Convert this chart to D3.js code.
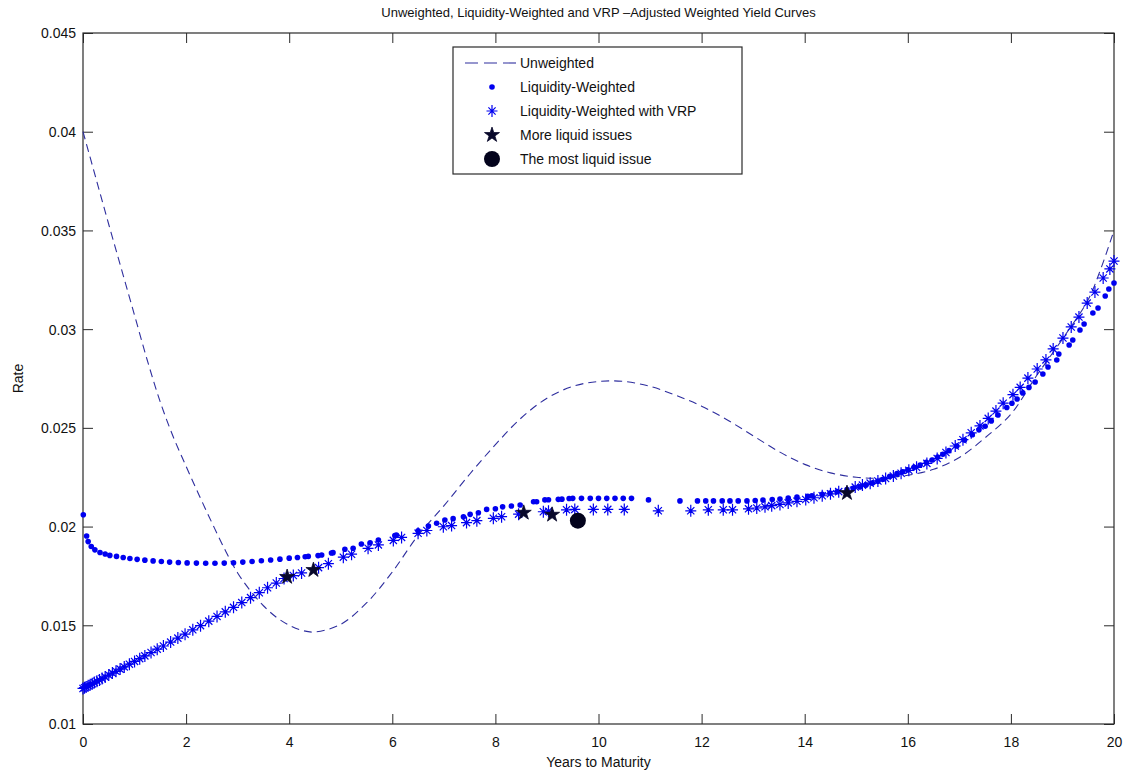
<!DOCTYPE html>
<html>
<head>
<meta charset="utf-8">
<script src="https://cdn.jsdelivr.net/npm/d3@7"></script>
<style>
  html, body { margin: 0; padding: 0; background: #fff; }
  svg { display: block; }
  text { font-family: "Liberation Sans", Arial, sans-serif; fill: #111; }
</style>
</head>
<body>
<svg id="chart" width="1126" height="776"></svg>
<script>
// ---------- DATA ----------
const titleText = "Unweighted, Liquidity-Weighted and VRP \u2013Adjusted Weighted Yield Curves";
const xTicks = [0, 2, 4, 6, 8, 10, 12, 14, 16, 18, 20];
const yTicks = [0.01, 0.015, 0.02, 0.025, 0.03, 0.035, 0.04, 0.045];
const yTickLabels = ["0.01", "0.015", "0.02", "0.025", "0.03", "0.035", "0.04", "0.045"];
const legendLabels = ["Unweighted", "Liquidity-Weighted", "Liquidity-Weighted with VRP", "More liquid issues", "The most liquid issue"];

// Unweighted (dashed line)
const unwX = [0, 0.25, 0.5, 0.75, 1, 1.25, 1.5, 1.75, 2, 2.25, 2.5, 2.75, 3, 3.25, 3.5, 3.75, 4, 4.25, 4.5, 5, 5.5, 6, 6.5, 7, 7.5, 8, 8.5, 9, 9.5, 10, 10.5, 11, 11.5, 12, 12.5, 13, 13.5, 14, 14.5, 15, 15.5, 16, 16.5, 17, 17.5, 18, 18.5, 19, 19.5, 19.75, 20];
const unwY = [0.0400, 0.03765, 0.0353, 0.0330, 0.0307, 0.0284, 0.0263, 0.02455, 0.02305, 0.0216, 0.0202, 0.01885, 0.01765, 0.01674, 0.01599, 0.01541, 0.0150, 0.01474, 0.01466, 0.01505, 0.01613, 0.0177, 0.01955, 0.02105, 0.02265, 0.02415, 0.0255, 0.0265, 0.0271, 0.02735, 0.02735, 0.0271, 0.02665, 0.0261, 0.0254, 0.0246, 0.0238, 0.02315, 0.02272, 0.0225, 0.02245, 0.0226, 0.0229, 0.0235, 0.0245, 0.0257, 0.02765, 0.0295, 0.0315, 0.0331, 0.0350];

// Liquidity-Weighted (dots)
const lwX = [0.006, 0.07, 0.1, 0.16, 0.23, 0.33, 0.43, 0.52, 0.65, 0.78, 0.91, 1.05, 1.2, 1.36, 1.52, 1.68, 1.85, 2.02, 2.2, 2.38, 2.56, 2.74, 2.92, 3.1, 3.28, 3.46, 3.64, 3.82, 4.0, 4.16, 4.31, 4.37, 4.56, 4.63, 4.82, 4.85, 5.08, 5.24, 5.40, 5.57, 5.73, 6.05, 6.08, 6.50, 6.70, 6.86, 7.02, 7.18, 7.38, 7.51, 7.67, 7.83, 8.00, 8.14, 8.31, 8.48, 8.74, 8.80, 8.96, 9.03, 9.22, 9.29, 9.43, 9.50, 9.67, 9.84, 10.0, 10.16, 10.32, 10.48, 10.64, 10.97, 11.58, 11.92, 12.08, 12.23, 12.40, 12.55, 12.71, 12.88, 13.04, 13.19, 13.37, 13.52, 13.68, 13.85, 14.06, 14.14, 14.34, 14.49, 14.63, 14.82, 14.94, 15.07, 15.19, 15.31, 15.42, 15.52, 15.65, 15.79, 15.9, 16.0, 16.12, 16.24, 16.36, 16.47, 16.58, 16.68, 16.8, 16.95, 17.1, 17.25, 17.38, 17.5, 17.62, 17.75, 17.92, 18.02, 18.12, 18.23, 18.35, 18.47, 18.62, 18.72, 18.89, 18.93, 19.13, 19.2, 19.34, 19.42, 19.59, 19.69, 19.83, 19.9, 20.0];
const lwY = [0.0206, 0.01952, 0.01924, 0.01899, 0.01882, 0.01869, 0.01861, 0.01854, 0.01849, 0.01843, 0.01838, 0.01834, 0.0183, 0.01826, 0.01823, 0.0182, 0.01818, 0.01816, 0.01815, 0.01814, 0.01814, 0.01815, 0.01817, 0.0182, 0.01823, 0.01827, 0.01831, 0.01835, 0.0184, 0.01843, 0.01847, 0.01849, 0.01853, 0.01856, 0.01866, 0.01868, 0.01885, 0.0189, 0.01912, 0.01918, 0.01932, 0.01955, 0.01957, 0.01979, 0.02003, 0.02017, 0.02033, 0.0204, 0.0205, 0.02062, 0.0207, 0.02087, 0.0209, 0.021, 0.02104, 0.02109, 0.02126, 0.02126, 0.02135, 0.02136, 0.02138, 0.02139, 0.02142, 0.02143, 0.02143, 0.02143, 0.02143, 0.02143, 0.02143, 0.02143, 0.02143, 0.02135, 0.0213, 0.0213, 0.0213, 0.0213, 0.0213, 0.0213, 0.0213, 0.0213, 0.02132, 0.02134, 0.02137, 0.0214, 0.02144, 0.02149, 0.02153, 0.02156, 0.02164, 0.0217, 0.02177, 0.02188, 0.02194, 0.02201, 0.0221, 0.0222, 0.0223, 0.0224, 0.02255, 0.02268, 0.02278, 0.02287, 0.023, 0.02312, 0.02325, 0.02337, 0.02352, 0.02366, 0.02385, 0.02408, 0.02438, 0.02465, 0.0249, 0.02508, 0.02535, 0.02565, 0.02603, 0.02625, 0.02646, 0.02677, 0.02705, 0.02732, 0.02773, 0.02808, 0.02844, 0.02874, 0.0292, 0.02945, 0.02996, 0.03026, 0.03082, 0.03107, 0.03168, 0.03203, 0.03234];

// Liquidity-Weighted with VRP (asterisks)
const vrpX = [0.0, 0.03, 0.06, 0.1, 0.14, 0.18, 0.22, 0.27, 0.32, 0.37, 0.43, 0.5, 0.57, 0.64, 0.72, 0.8, 0.9, 1.0, 1.1, 1.2, 1.32, 1.44, 1.56, 1.7, 1.84, 1.98, 2.13, 2.28, 2.44, 2.6, 2.76, 2.92, 3.08, 3.25, 3.42, 3.58, 3.75, 3.9, 4.08, 4.24, 4.57, 4.76, 5.05, 5.21, 5.53, 5.73, 6.02, 6.18, 6.5, 6.67, 6.99, 7.15, 7.44, 7.64, 7.96, 8.12, 8.45, 8.93, 9.03, 9.38, 9.54, 9.9, 10.18, 10.5, 11.16, 11.79, 12.13, 12.42, 12.6, 12.91, 13.07, 13.23, 13.36, 13.52, 13.68, 13.85, 14.02, 14.18, 14.34, 14.5, 14.66, 14.98, 15.12, 15.27, 15.42, 15.57, 15.72, 15.87, 16.02, 16.17, 16.37, 16.57, 16.74, 16.92, 17.07, 17.23, 17.4, 17.56, 17.71, 17.85, 18.04, 18.18, 18.33, 18.51, 18.68, 18.82, 19.01, 19.17, 19.32, 19.48, 19.63, 19.79, 19.92, 20.0];
const vrpY = [0.0118, 0.01184, 0.01188, 0.01194, 0.01199, 0.01204, 0.0121, 0.01217, 0.01223, 0.0123, 0.01238, 0.01248, 0.01258, 0.01267, 0.01278, 0.01289, 0.01303, 0.01317, 0.01331, 0.01345, 0.01362, 0.01379, 0.01395, 0.01415, 0.01435, 0.01455, 0.01477, 0.01498, 0.01521, 0.01545, 0.01568, 0.01591, 0.01615, 0.0164, 0.01665, 0.0169, 0.01714, 0.01737, 0.01752, 0.01765, 0.01792, 0.01812, 0.01845, 0.0186, 0.0189, 0.01907, 0.0193, 0.01945, 0.01966, 0.0198, 0.01999, 0.02005, 0.0202, 0.0203, 0.02042, 0.0205, 0.02063, 0.02075, 0.02078, 0.02085, 0.02087, 0.02087, 0.02087, 0.02087, 0.0208, 0.0208, 0.02085, 0.02085, 0.02085, 0.0209, 0.02094, 0.021, 0.02106, 0.02112, 0.0212, 0.02128, 0.02137, 0.02146, 0.02156, 0.02166, 0.02177, 0.022, 0.0221, 0.0222, 0.02231, 0.02243, 0.02256, 0.0227, 0.02285, 0.023, 0.0232, 0.02345, 0.02375, 0.02408, 0.0244, 0.02475, 0.0251, 0.02548, 0.02585, 0.02625, 0.02668, 0.02705, 0.02752, 0.02798, 0.02844, 0.029, 0.02955, 0.03011, 0.03061, 0.03132, 0.03188, 0.03259, 0.03305, 0.03345];

// More liquid issues (black stars) and the most liquid issue (black circle)
const moreLiqX = [3.96, 4.47, 8.55, 9.1, 14.82];
const moreLiqY = [0.01745, 0.0178, 0.0207, 0.0206, 0.0217];
const mostLiqX = [9.6];
const mostLiqY = [0.0203];

// ---------- LAYOUT ----------
const svg = d3.select("#chart");
const plot = { left: 83, right: 1114, top: 33, bottom: 724 };
const x = d3.scaleLinear().domain([0, 20]).range([plot.left, plot.right]);
const y = d3.scaleLinear().domain([0.01, 0.045]).range([plot.bottom, plot.top]);

const BLUE = "#0000f0";
const DASH = "#2e2e9e";
const DARK = "#08082a";
const AXIS = "#2a2a2a";

// Title
svg.append("text")
  .attr("x", (plot.left + plot.right) / 2).attr("y", 17)
  .attr("text-anchor", "middle").style("font-size", "13px")
  .text(titleText);

// Axes (inward ticks, box)
const tickLen = 10;
const gx = svg.append("g").attr("transform", `translate(0,${plot.bottom})`)
  .call(d3.axisBottom(x).tickValues(xTicks).tickSize(0).tickPadding(13).tickFormat(d3.format("d")));
const gxTop = svg.append("g").attr("transform", `translate(0,${plot.top})`)
  .call(d3.axisTop(x).tickValues(xTicks).tickSize(0).tickFormat(""));
const gy = svg.append("g").attr("transform", `translate(${plot.left},0)`)
  .call(d3.axisLeft(y).tickValues(yTicks).tickSize(0).tickPadding(7).tickFormat((d, i) => yTickLabels[i]));
const gyR = svg.append("g").attr("transform", `translate(${plot.right},0)`)
  .call(d3.axisRight(y).tickValues(yTicks).tickSize(0).tickFormat(""));

[gx, gxTop, gy, gyR].forEach(g => {
  g.select(".domain").remove();
  g.selectAll("text").style("font-size", "14px").style("font-family", "'Liberation Sans', Arial, sans-serif").attr("fill", "#111");
});
gy.selectAll("text").attr("dy", "0.35em");

// tick marks drawn inward
gx.selectAll(".tick line").attr("y2", -tickLen).attr("stroke", AXIS);
gxTop.selectAll(".tick line").attr("y2", tickLen).attr("stroke", AXIS);
gy.selectAll(".tick line").attr("x2", tickLen).attr("stroke", AXIS);
gyR.selectAll(".tick line").attr("x2", -tickLen).attr("stroke", AXIS);

svg.append("rect")
  .attr("x", plot.left).attr("y", plot.top)
  .attr("width", plot.right - plot.left).attr("height", plot.bottom - plot.top)
  .attr("fill", "none").attr("stroke", AXIS).attr("stroke-width", 1.2);

// Axis labels
svg.append("text")
  .attr("x", (plot.left + plot.right) / 2).attr("y", 767)
  .attr("text-anchor", "middle").style("font-size", "14px")
  .text("Years to Maturity");
svg.append("text")
  .attr("transform", `translate(23,${(plot.top + plot.bottom) / 2}) rotate(-90)`)
  .attr("text-anchor", "middle").style("font-size", "14px")
  .text("Rate");

// ---------- MARKS ----------
const marks = svg.append("g");

// Unweighted dashed line
const unwData = unwX.map((d, i) => [d, unwY[i]]);
marks.append("path")
  .datum(unwData)
  .attr("fill", "none").attr("stroke", DASH).attr("stroke-width", 1.1)
  .attr("stroke-dasharray", "8,5")
  .attr("d", d3.line().x(d => x(d[0])).y(d => y(d[1])).curve(d3.curveCatmullRom));

// Liquidity-weighted dots
marks.selectAll("circle.lw")
  .data(lwX.map((d, i) => [d, lwY[i]]))
  .join("circle").attr("class", "lw")
  .attr("cx", d => x(d[0])).attr("cy", d => y(d[1]))
  .attr("r", 2.8).attr("fill", BLUE);

// Asterisk marker
const asteriskPath = "M-5.5,0H5.5M0,-6V6M-3.6,-3.6L3.6,3.6M-3.6,3.6L3.6,-3.6";
marks.selectAll("path.vrp")
  .data(vrpX.map((d, i) => [d, vrpY[i]]))
  .join("path").attr("class", "vrp")
  .attr("transform", d => `translate(${x(d[0])},${y(d[1])})`)
  .attr("d", asteriskPath)
  .attr("fill", "none").attr("stroke", BLUE).attr("stroke-width", 1.2);

// More liquid issues (pentagrams)
const star = d3.symbol().type(d3.symbolStar).size(70);
marks.selectAll("path.ml")
  .data(moreLiqX.map((d, i) => [d, moreLiqY[i]]))
  .join("path").attr("class", "ml")
  .attr("transform", d => `translate(${x(d[0])},${y(d[1])})`)
  .attr("d", star()).attr("fill", DARK).attr("stroke", DARK).attr("stroke-width", 0.8);

// The most liquid issue (circle)
marks.selectAll("circle.most")
  .data(mostLiqX.map((d, i) => [d, mostLiqY[i]]))
  .join("circle").attr("class", "most")
  .attr("cx", d => x(d[0])).attr("cy", d => y(d[1]))
  .attr("r", 8).attr("fill", "#03031c");

// ---------- LEGEND ----------
const leg = svg.append("g");
const lgBox = { x: 453, y: 47, w: 289, h: 127 };
leg.append("rect")
  .attr("x", lgBox.x).attr("y", lgBox.y).attr("width", lgBox.w).attr("height", lgBox.h)
  .attr("fill", "#fff").attr("stroke", AXIS).attr("stroke-width", 1.2);
const rowY = i => 63 + i * 24;
const markX = 492;
leg.append("line")
  .attr("x1", 465).attr("x2", 517).attr("y1", rowY(0)).attr("y2", rowY(0))
  .attr("stroke", DASH).attr("stroke-width", 1.1).attr("stroke-dasharray", "13,6");
leg.append("circle").attr("cx", markX).attr("cy", rowY(1)).attr("r", 2.8).attr("fill", BLUE);
leg.append("path").attr("transform", `translate(${markX},${rowY(2)})`).attr("d", asteriskPath)
  .attr("fill", "none").attr("stroke", BLUE).attr("stroke-width", 1.2);
leg.append("path").attr("transform", `translate(${markX},${rowY(3)})`).attr("d", star())
  .attr("fill", DARK).attr("stroke", DARK).attr("stroke-width", 0.8);
leg.append("circle").attr("cx", markX).attr("cy", rowY(4)).attr("r", 8).attr("fill", "#03031c");
leg.selectAll("text.lg")
  .data(legendLabels)
  .join("text").attr("class", "lg")
  .attr("x", 520).attr("y", (d, i) => rowY(i)).attr("dy", "0.35em")
  .style("font-size", "14px")
  .text(d => d);
</script>
</body>
</html>
